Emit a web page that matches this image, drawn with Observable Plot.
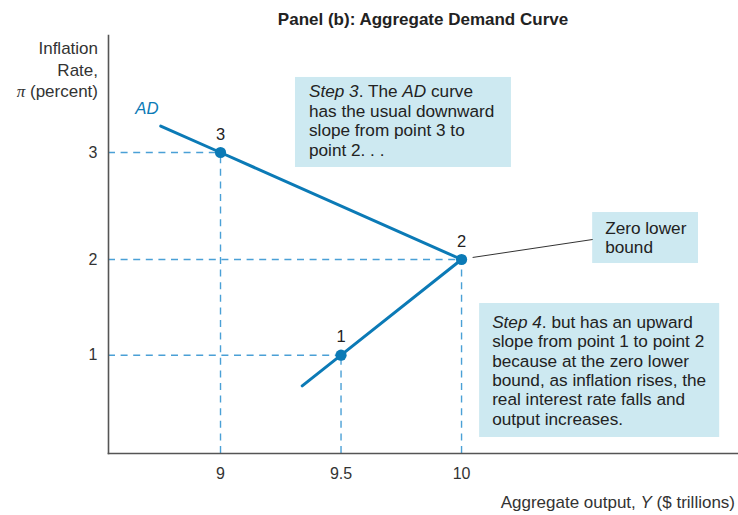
<!DOCTYPE html>
<html><head><meta charset="utf-8">
<script src="https://cdn.jsdelivr.net/npm/d3@7"></script>
<script src="https://cdn.jsdelivr.net/npm/@observablehq/plot@0.6"></script>
<style>body{margin:0;background:#fff}svg{display:block}</style>
</head><body><div id="chart"></div>
<script>
// ---- data ----
const pointLabels = ["1", "2", "3"];
const pointOutput = [9.5, 10, 9];
const pointInflation = [1, 2, 3];
const curveOutput = [8.752, 9, 10, 9.5, 9.339];
const curveInflation = [3.246, 3, 2, 1, 0.68];
const xTicks = [9, 9.5, 10];
const yTicks = [1, 2, 3];
const titleText = "Panel (b): Aggregate Demand Curve";

const points = pointLabels.map((l, i) => ({label: l, x: pointOutput[i], y: pointInflation[i]}));
const curve = curveOutput.map((x, i) => ({x, y: curveInflation[i]}));

const FONT = "'Liberation Sans', Arial, Helvetica, sans-serif";
const BLUE = "#0b7ab6";
const DASH = "#4aa0d6";
const BOX = "#cde9f1";
const TXT = "#222";

const xDomain = [8.5353, 11.149];
const yDomain = [-0.027, 1, 2, 3, 4.093];

// rich text helper: lines = array of arrays of segments (string or {t, i})
function richText(g, px, py, lines, {anchor = "start", lh = 19.4, size = 17.2, weight = null, fill = TXT} = {}) {
  const t = g.append("text").attr("x", px).attr("y", py)
    .attr("text-anchor", anchor).attr("font-size", size).attr("fill", fill)
    .attr("font-family", FONT);
  if (weight) t.attr("font-weight", weight);
  lines.forEach((segs, i) => {
    segs.forEach((s, j) => {
      const seg = typeof s === "string" ? {t: s} : s;
      const ts = t.append("tspan").text(seg.t);
      if (j === 0) ts.attr("x", px).attr("dy", i === 0 ? 0 : lh);
      if (seg.i) ts.attr("font-style", "italic");
      if (seg.f) ts.attr("font-family", seg.f);
    });
  });
  return t;
}

// annotation box mark, placed in data space
function annotation({x1, x2, yTop, yBottom, padX, padY, lines, lh}) {
  return (index, scales) => {
    const g = d3.create("svg:g");
    const left = scales.x(x1), right = scales.x(x2), top = scales.y(yTop), bottom = scales.y(yBottom);
    g.append("rect").attr("x", left).attr("y", top).attr("width", right - left).attr("height", bottom - top).attr("fill", BOX);
    richText(g, left + padX, top + padY, lines, {lh});
    return g.node();
  };
}

// frame-relative texts (title, axis labels)
const frameTexts = (index, scales, values, dims) => {
  const g = d3.create("svg:g");
  const {width, height, marginLeft, marginTop, marginBottom} = dims;
  richText(g, (marginLeft + width) / 2, marginTop - 10, [[titleText]], {anchor: "middle", weight: "bold", size: 17, fill: "#222"});
  richText(g, marginLeft - 10, marginTop + 19, [["Inflation"], ["Rate,"], [{t: "π", i: true, f: "'Liberation Serif', 'DejaVu Serif', serif"}, " (percent)"]], {anchor: "end", lh: 21.5, size: 17, fill: "#333"});
  richText(g, width - 3, height - marginBottom + 55, [["Aggregate output, ", {t: "Y", i: true}, " ($ trillions)"]], {anchor: "end", size: 17, fill: "#333"});
  return g.node();
};

const chart = Plot.plot({
  width: 738,
  height: 515,
  marginLeft: 108,
  marginRight: 0,
  marginTop: 35,
  marginBottom: 62,
  style: {fontFamily: FONT, fontSize: "16px", color: "#333", background: "#fff"},
  x: {type: "linear", domain: xDomain, range: [108, 738]},
  y: {type: "linear", domain: yDomain, range: [453, 354.7, 259, 152, 35]},
  marks: [
    Plot.ruleY(points, {y: "y", x1: () => xDomain[0], x2: "x", stroke: DASH, strokeWidth: 1.4, strokeDasharray: "7,5.6"}),
    Plot.ruleX(points, {x: "x", y1: () => yDomain[0], y2: "y", stroke: DASH, strokeWidth: 1.4, strokeDasharray: "7,5.6"}),
    annotation({x1: 9.311, x2: 10.207, yTop: 3.701, yBottom: 2.860, padX: 14, padY: 20.5, lh: 19.5,
      lines: [[{t: "Step 3", i: true}, ". The ", {t: "AD", i: true}, " curve"], ["has the usual downward"], ["slope from point 3 to"], ["point 2. . ."]]}),
    annotation({x1: 10.544, x2: 10.983, yTop: 2.439, yBottom: 1.958, padX: 13, padY: 21.5, lh: 19,
      lines: [["Zero lower"], ["bound"]]}),
    annotation({x1: 10.075, x2: 11.071, yTop: 1.540, yBottom: 0.140, padX: 13, padY: 25, lh: 19.3,
      lines: [[{t: "Step 4", i: true}, ". but has an upward"], ["slope from point 1 to point 2"], ["because at the zero lower"], ["bound, as inflation rises, the"], ["real interest rate falls and"], ["output increases."]]}),
    Plot.link([{a: 10.046, b: 2.019, c: 10.544, d: 2.187}], {x1: "a", y1: "b", x2: "c", y2: "d", stroke: "#333", strokeWidth: 1}),
    Plot.line(curve, {x: "x", y: "y", stroke: BLUE, strokeWidth: 3, curve: "linear"}),
    Plot.dot(points, {x: "x", y: "y", r: 5.6, fill: BLUE, stroke: "none"}),
    Plot.text(points, {x: "x", y: "y", text: "label", dy: -18, fontSize: 16.5, fill: TXT, lineAnchor: "middle"}),
    Plot.text(["AD"], {x: () => 8.695, y: () => 3.41, text: d => d, fill: BLUE, fontStyle: "italic", fontSize: 16.8}),
    Plot.axisX({ticks: xTicks, tickSize: 0, tickPadding: 14, fontSize: 16, tickFormat: d => String(d), label: null, fill: "#333"}),
    Plot.axisY({ticks: yTicks, tickSize: 0, tickPadding: 11, fontSize: 16, tickFormat: d => String(d), label: null, fill: "#333"}),
    Plot.frame({anchor: "left", stroke: "#555", strokeWidth: 1.6}),
    Plot.frame({anchor: "bottom", stroke: "#555", strokeWidth: 1.6}),
    frameTexts
  ]
});
document.getElementById("chart").appendChild(chart);
</script>
</body></html>
